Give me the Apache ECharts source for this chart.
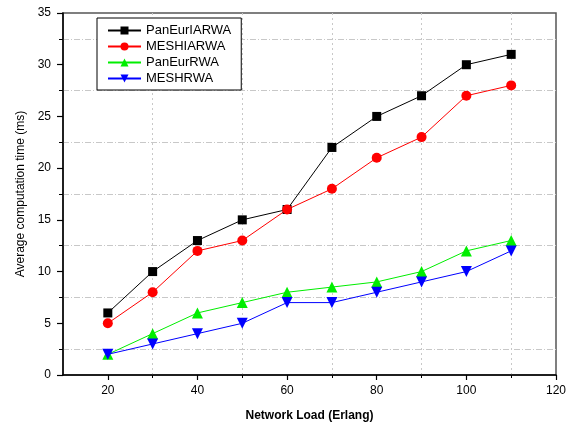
<!DOCTYPE html>
<html>
<head>
<meta charset="utf-8">
<script src="https://cdn.jsdelivr.net/npm/echarts@6/dist/echarts.min.js"></script>
<style>
  html, body { margin: 0; padding: 0; background: #fff; }
  #chart { width: 574px; height: 427px; }
</style>
</head>
<body>
<div id="chart"></div>
<script>
// network load (Erlang)
var loads = [20, 30, 40, 50, 60, 70, 80, 90, 100, 110]
var panEurIARWA = [6, 10, 13, 15, 16, 22, 25, 27, 30, 31]
var meshIARWA = [5, 8, 12, 13, 16, 18, 21, 23, 27, 28]
var panEurRWA = [2, 4, 6, 7, 8, 8.5, 9, 10, 12, 13]
var meshRWA = [2, 3, 4, 5, 7, 7, 8, 9, 10, 12]
var xMajor = [20, 40, 60, 80, 100, 120]
var xMinor = [30, 50, 70, 90, 110]

var font = 'Liberation Sans, Arial, sans-serif'

function pairs(ys) {
  return loads.map(function(x, i) { return [x, ys[i]] })
}

function line(name, data, color, symbol, size) {
  return {
    name: name,
    type: 'line',
    data: pairs(data),
    symbol: symbol,
    symbolSize: size,
    showSymbol: true,
    itemStyle: { color: color },
    lineStyle: { color: color, width: 1 },
    animation: false
  }
}

var chart = echarts.init(document.getElementById('chart'))
chart.setOption({
  backgroundColor: '#fff',
  grid: {
    left: 63, right: 18, top: 13, bottom: 51,
    show: true, borderColor: '#555', borderWidth: 1.5
  },
  legend: {
    orient: 'vertical',
    left: 97, top: 18,
    padding: [6, 10, 5, 10],
    itemGap: 3,
    itemWidth: 33,
    itemHeight: 10,
    backgroundColor: '#fff',
    borderColor: '#000',
    borderWidth: 1,
    textStyle: { fontFamily: font, fontSize: 13, color: '#000' },
    data: ['PanEurIARWA', 'MESHIARWA', 'PanEurRWA', 'MESHRWA']
  },
  xAxis: [{
    type: 'value',
    min: 10, max: 120, interval: 10,
    name: 'Network Load (Erlang)',
    nameLocation: 'middle',
    nameGap: 35,
    nameTextStyle: { fontFamily: font, fontSize: 12, fontWeight: 'bold', color: '#000' },
    axisLine: { show: true, lineStyle: { color: '#000', width: 1.5 } },
    axisTick: { show: true, length: 5, customValues: xMajor, lineStyle: { color: '#000', width: 1.2 } },
    axisLabel: { customValues: xMajor, margin: 10, fontFamily: font, fontSize: 12, color: '#000' },
    splitLine: { show: false }
  }, {
    type: 'value',
    position: 'bottom',
    min: 10, max: 120, interval: 10,
    axisLine: { show: false },
    axisTick: { show: true, length: 3, customValues: xMinor, lineStyle: { color: '#000', width: 1 } },
    axisLabel: { show: false },
    splitLine: { show: true, lineStyle: { color: '#c8c8c8', width: 1, type: [2, 3] } }
  }],
  yAxis: {
    type: 'value',
    min: 0, max: 35, interval: 5,
    name: 'Average computation time (ms)',
    nameLocation: 'middle',
    nameGap: 35,
    nameTextStyle: { fontFamily: font, fontSize: 12, color: '#000' },
    axisLine: { show: true, lineStyle: { color: '#000', width: 1.5 } },
    axisTick: { show: true, length: 6, lineStyle: { color: '#000', width: 1.2 } },
    minorTick: { show: true, splitNumber: 2, length: 4, lineStyle: { color: '#000', width: 1 } },
    axisLabel: { margin: 12, fontFamily: font, fontSize: 12, color: '#000' },
    splitLine: { show: false },
    minorSplitLine: { show: true, lineStyle: { color: '#c8c8c8', width: 1, type: [6, 2, 1, 2] } }
  },
  series: [
    line('PanEurIARWA', panEurIARWA, '#000000', 'rect', 9),
    line('MESHIARWA', meshIARWA, '#ff0000', 'circle', 10),
    line('PanEurRWA', panEurRWA, '#00ee00', 'triangle', 11),
    line('MESHRWA', meshRWA, '#0000ff', 'path://M0,0 L10,0 L5,9 Z', 11)
  ]
})
</script>
</body>
</html>
